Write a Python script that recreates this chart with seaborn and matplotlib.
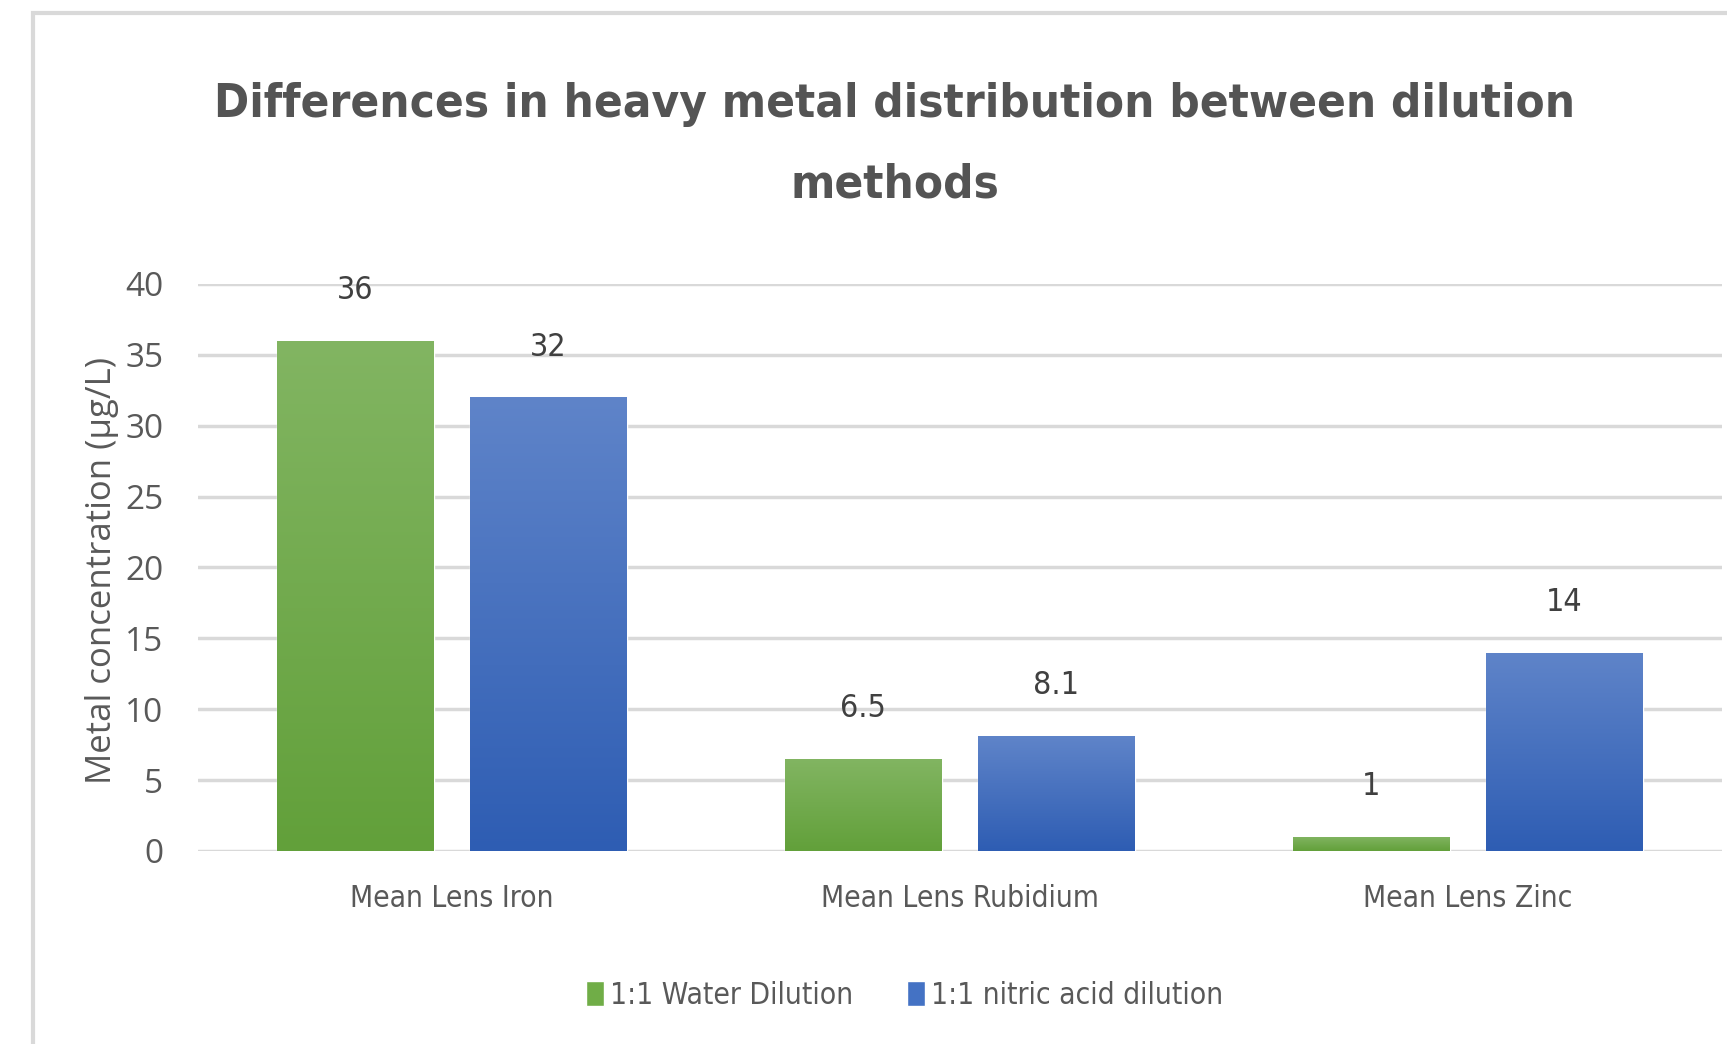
import matplotlib
matplotlib.use("Agg")
import matplotlib.pyplot as plt
import seaborn as sns
import pandas as pd
import numpy as np
from matplotlib.colors import LinearSegmentedColormap
from matplotlib.patches import Rectangle

# Chart data
categories = ["Mean Lens Iron", "Mean Lens Rubidium", "Mean Lens Zinc"]
series_names = ["1:1 Water Dilution", "1:1 nitric acid dilution"]
water_dilution = [36, 6.5, 1]
nitric_dilution = [32, 8.1, 14]
y_ticks = [0, 5, 10, 15, 20, 25, 30, 35, 40]

df = pd.DataFrame({
    "category": categories * 2,
    "series": [series_names[0]] * len(categories) + [series_names[1]] * len(categories),
    "value": water_dilution + nitric_dilution,
})

sns.set_theme(style="white")
NARROW = ["DejaVu Sans"]
plt.rcParams["font.family"] = ["Open Sans", "DejaVu Sans"]

TEXT = "#595959"
GRID = "#D9D9D9"
palette = {series_names[0]: "#70AD47", series_names[1]: "#4472C4"}
gradients = {
    series_names[0]: ("#62A03A", "#82B562"),
    series_names[1]: ("#2E5DB3", "#5F84C9"),
}

fig = plt.figure(figsize=(17.27, 10.44), dpi=100)
ax = fig.add_axes([0.1146, 0.1849, 0.8825, 0.5431])

sns.barplot(data=df, x="category", y="value", hue="series", hue_order=series_names,
            palette=palette, saturation=1, width=0.76, gap=0.19, ax=ax)

# Vertical gradient fill on each bar, clipped to the bar shape
grad = np.linspace(0, 1, 256).reshape(-1, 1)
for name, container in zip(series_names, ax.containers):
    cmap = LinearSegmentedColormap.from_list(name, gradients[name])
    for bar in container:
        x0, y0 = bar.get_x(), bar.get_y()
        w, h = bar.get_width(), bar.get_height()
        im = ax.imshow(grad, extent=[x0, x0 + w, y0, y0 + h], origin="lower",
                       aspect="auto", cmap=cmap, zorder=bar.get_zorder() + 0.1)
        im.set_clip_path(bar)
    ax.bar_label(container, fmt="{:g}", padding=25, fontsize=23,
                 color="#404040", family=NARROW, fontstretch="condensed")

ax.set_xlim(-0.5, 2.5)
ax.set_ylim(0, 40)
ax.set_yticks(y_ticks)
ax.set_xlabel("")
ax.set_ylabel("")
ax.yaxis.grid(True, color=GRID, lw=2.5)
ax.set_axisbelow(True)
for s in ax.spines.values():
    s.set_visible(False)
ax.tick_params(axis="y", length=0, pad=25, labelsize=24, labelcolor=TEXT)
ax.tick_params(axis="x", length=0, pad=24, labelsize=21.5, labelcolor=TEXT)
for lbl in ax.get_xticklabels():
    lbl.set_family(NARROW)
    lbl.set_fontstretch("condensed")

fig.text(102 / 1727, 1 - 571 / 1044, "Metal concentration (µg/L)", rotation=90,
         ha="center", va="center", fontsize=25, color=TEXT)

fig.text(0.518, 1 - 198 / 1044,
         "Differences in heavy metal distribution between dilution\nmethods",
         ha="center", va="baseline", fontsize=34, weight="bold", color="#545454",
         family=NARROW, fontstretch="condensed", linespacing=2.02)

handles, labels = ax.get_legend_handles_labels()
ax.get_legend().remove()
fig.legend(handles, labels, loc="center", bbox_to_anchor=(0.5237, 1 - 995 / 1044),
           ncol=2, frameon=False, handlelength=0.6, handleheight=0.9,
           handletextpad=0.2, columnspacing=1.8,
           prop={"family": NARROW, "size": 21.5, "stretch": "condensed"}, labelcolor=TEXT)

# Light chart-area border
fig.patches.append(Rectangle((33 / 1727, -0.1), 1.2, 1.1 - 13 / 1044,
                             transform=fig.transFigure, fill=False,
                             edgecolor=GRID, lw=3))

fig.savefig("out.png", dpi=100)
